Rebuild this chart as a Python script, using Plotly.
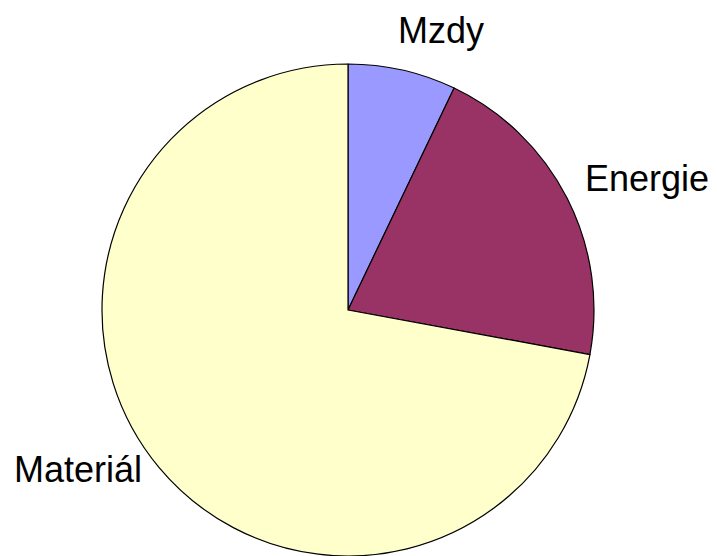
import plotly.graph_objects as go

labels = ["Mzdy", "Energie", "Materiál"]
values = [7.1, 20.8, 72.1]
colors = ["#9999FF", "#993366", "#FFFFCC"]

# page body has an 8px margin; figure sized to fit the window
OFF = 8
W, H = 717 - OFF, 556 - OFF
cx, cy, r = 348 - OFF, 310 - OFF, 246
fig = go.Figure(go.Pie(
    labels=labels, values=values, sort=False, direction="clockwise", rotation=0,
    marker=dict(colors=colors, line=dict(color="black", width=1.2)),
    textinfo="none", hoverinfo="label+percent", showlegend=False,
    domain=dict(x=[(cx - r) / W, (cx + r) / W], y=[0, 2 * r / H]),
))

label_pos = {"Mzdy": (441, 30), "Energie": (647, 178), "Materiál": (78, 469)}
for lab in labels:
    x, y = label_pos[lab]
    fig.add_annotation(x=(x - OFF) / W, y=1 - (y - OFF) / H, xref="paper", yref="paper", text=lab,
                       showarrow=False, xanchor="center", yanchor="middle",
                       font=dict(family="Liberation Sans, Arial", size=36, color="black"))

fig.update_layout(width=W, height=H, margin=dict(l=0, r=0, t=0, b=0),
                  paper_bgcolor="white", plot_bgcolor="white")
fig.write_html("out.html")
